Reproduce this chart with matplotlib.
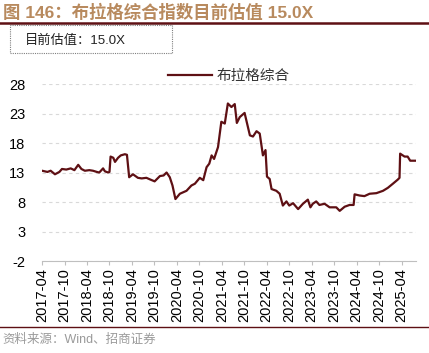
import pandas as pd
import matplotlib.pyplot as plt
import matplotlib.dates as mdates
from matplotlib.patches import Rectangle
from matplotlib.lines import Line2D

plt.rcParams['font.family'] = ['Liberation Sans', 'Noto Sans CJK SC', 'DejaVu Sans']
plt.rcParams['axes.unicode_minus'] = False

# data
dates = ['2017-04-01', '2017-05-15', '2017-06-10', '2017-07-15', '2017-08-20', '2017-09-10',
         '2017-10-15', '2017-11-20', '2017-12-20', '2018-01-20', '2018-02-15', '2018-03-15',
         '2018-04-20', '2018-05-20', '2018-06-20', '2018-07-10', '2018-08-10', '2018-08-25',
         '2018-09-20', '2018-10-01', '2018-10-10', '2018-11-01', '2018-11-15', '2018-12-10',
         '2019-01-01', '2019-02-03', '2019-02-20', '2019-03-10', '2019-04-10', '2019-05-20',
         '2019-06-20', '2019-07-28', '2019-08-30', '2019-10-03', '2019-11-15', '2019-12-15',
         '2020-01-08', '2020-02-03', '2020-02-25', '2020-03-20', '2020-04-25', '2020-06-18',
         '2020-07-28', '2020-08-25', '2020-10-04', '2020-11-01', '2020-11-28', '2020-12-20',
         '2021-01-08', '2021-01-28', '2021-03-01', '2021-03-28', '2021-04-25', '2021-05-20',
         '2021-06-18', '2021-07-15', '2021-08-01', '2021-08-25', '2021-10-03', '2021-11-15',
         '2021-12-10', '2022-01-08', '2022-02-03', '2022-03-01', '2022-03-22', '2022-04-03',
         '2022-04-25', '2022-05-10', '2022-06-18', '2022-07-15', '2022-08-10', '2022-09-08',
         '2022-10-01', '2022-11-01', '2022-12-12', '2023-01-20', '2023-03-01', '2023-03-22',
         '2023-04-10', '2023-05-08', '2023-06-03', '2023-07-15', '2023-08-25', '2023-10-18',
         '2023-11-15', '2023-12-25', '2024-02-03', '2024-03-07', '2024-03-15', '2024-04-25',
         '2024-06-03', '2024-07-15', '2024-09-08', '2024-11-01', '2024-12-10', '2025-01-20',
         '2025-03-01', '2025-03-15', '2025-03-20', '2025-04-25', '2025-05-20', '2025-06-10',
         '2025-07-28']
pe = [13.3, 13.1, 13.3, 12.7, 13.1, 13.6,
      13.5, 13.7, 13.4, 14.3, 13.6, 13.3,
      13.4, 13.3, 13.1, 13.0, 13.7, 13.2,
      13.0, 13.1, 15.7, 15.5, 14.8, 15.5,
      15.9, 16.1, 16.0, 12.2, 12.7, 12.1,
      12.0, 12.1, 11.8, 11.5, 12.4, 12.5,
      13.0, 12.2, 10.8, 8.5, 9.4, 9.9,
      10.8, 11.1, 12.1, 11.7, 13.9, 14.5,
      15.9, 15.3, 17.3, 21.6, 21.3, 24.7,
      24.1, 24.6, 21.4, 22.4, 23.1, 19.3,
      19.1, 20.0, 19.6, 15.9, 16.8, 12.3,
      11.9, 10.2, 9.9, 9.4, 7.4, 8.1,
      7.4, 7.8, 6.8, 7.7, 8.4, 7.1,
      7.7, 8.1, 7.5, 7.7, 7.1, 7.1,
      6.5, 7.2, 7.5, 7.5, 9.3, 9.1,
      9.0, 9.4, 9.5, 9.9, 10.4, 11.1,
      11.8, 12.1, 16.2, 15.7, 15.7, 15.0,
      15.0]
tick_labels = ['2017-04', '2017-10', '2018-04', '2018-10', '2019-04', '2019-10',
               '2020-04', '2020-10', '2021-04', '2021-10', '2022-04', '2022-10',
               '2023-04', '2023-10', '2024-04', '2024-10', '2025-04']
y_ticks = [-2, 3, 8, 13, 18, 23, 28]

x = pd.to_datetime(dates)
ticks = pd.to_datetime([t + '-01' for t in tick_labels])

red = '#5e1014'
fig = plt.figure(figsize=(4.29, 3.53), dpi=100)
ax = fig.add_axes([0.098, 0.2606, 0.872, 0.5014])

ax.plot(x, pe, color=red, lw=1.6, label='布拉格综合')
ax.set_xlim(x[0], x[-1])
ax.set_ylim(-2, 28)
ax.set_yticks(y_ticks)
ax.set_xticks(ticks)
ax.set_xticklabels(tick_labels, rotation=90)
ax.tick_params(axis='both', length=0, labelsize=10.5, colors='black')
ax.tick_params(axis='y', pad=12)
ax.tick_params(axis='x', pad=5)
ax.grid(axis='y', color='#d9d9d9', ls=(0, (3, 3)), lw=0.8)
for s in ax.spines.values():
    s.set_visible(False)

# x axis line at zero with small ticks
sec = ax.secondary_xaxis(0)
sec.set_xticks(ticks)
sec.tick_params(labelbottom=False, length=3, color='#bfbfbf', width=0.8)
sec.spines['bottom'].set_color('#bfbfbf')
sec.spines['bottom'].set_linewidth(0.8)

ax.legend(loc='upper center', bbox_to_anchor=(0.5, 1.16), frameon=False, fontsize=10.5,
          handlelength=3.0, handletextpad=0.3, labelcolor='#333333')

# header, box and footer
fig.text(0.007, 0.965, '图 146：布拉格综合指数目前估值 15.0X', fontsize=12.5, fontweight='bold',
         color='#b88a5e', va='center', ha='left')
fig.add_artist(Line2D([0, 1], [0.935, 0.935], color=red, lw=1.8, transform=fig.transFigure))
fig.add_artist(Rectangle((0.023, 0.851), 0.378, 0.078, transform=fig.transFigure, fill=False,
                         ec='#808080', ls=(0, (1, 1)), lw=0.8))
fig.text(0.058, 0.885, '目前估值：15.0X', fontsize=9.5, color='#222222', va='center', ha='left')
fig.add_artist(Line2D([0, 1], [0.073, 0.073], color=red, lw=1.0, transform=fig.transFigure))
fig.text(0.005, 0.037, '资料来源：Wind、招商证券', fontsize=9, color='#9a9a9a', va='center', ha='left')

fig.savefig('out.png', dpi=100)
